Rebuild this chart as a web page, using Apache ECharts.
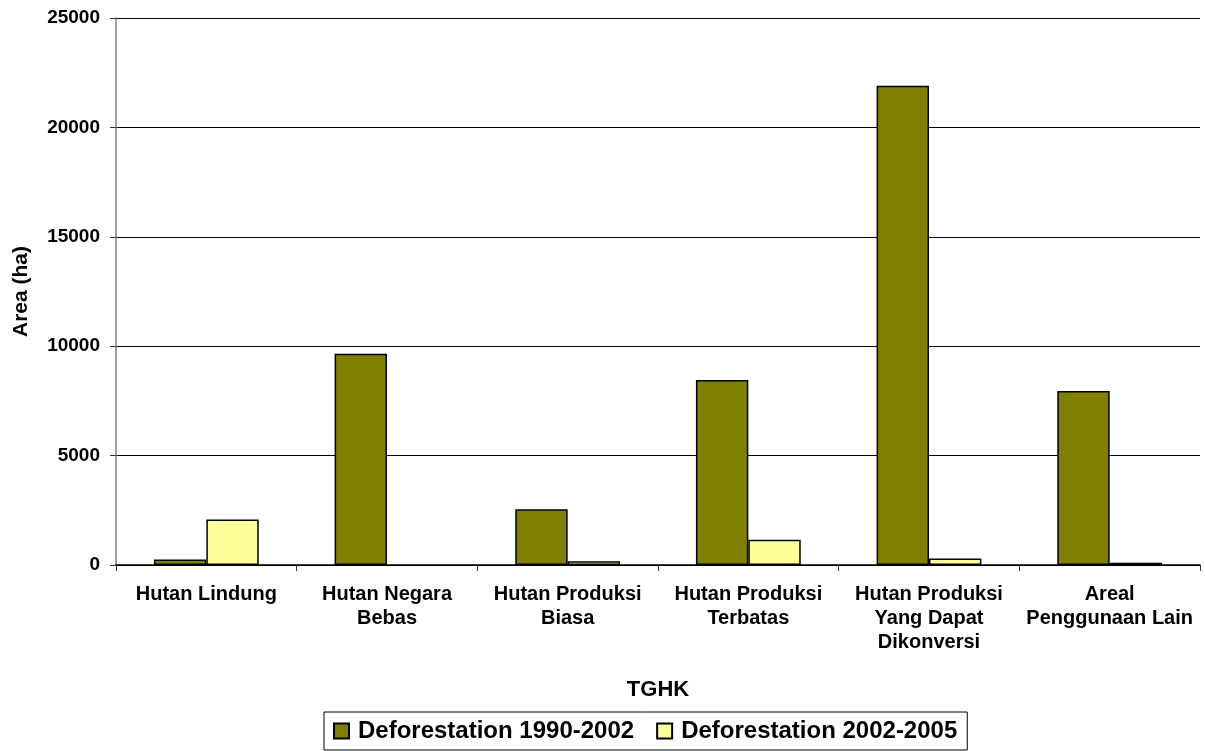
<!DOCTYPE html>
<html>
<head>
<meta charset="utf-8">
<script src="https://cdn.jsdelivr.net/npm/echarts@6/dist/echarts.min.js"></script>
<style>
html,body{margin:0;padding:0;background:#fff;}
#c{width:1205px;height:751px;}
</style>
</head>
<body>
<div id="c"></div>
<script>
const categories = [
  "Hutan Lindung",
  "Hutan Negara\nBebas",
  "Hutan Produksi\nBiasa",
  "Hutan Produksi\nTerbatas",
  "Hutan Produksi\nYang Dapat\nDikonversi",
  "Areal\nPenggunaan Lain"
];
const seriesNames = ["Deforestation 1990-2002", "Deforestation 2002-2005"];
const defor1990_2002 = [250, 9650, 2550, 8450, 21900, 7950];
const defor2002_2005 = [2080, null, 170, 1150, 300, 100];
const yTicks = { min: 0, max: 25000, interval: 5000 };

const FONT = '"Liberation Sans", Arial, sans-serif';
const chart = echarts.init(document.getElementById('c'));
chart.setOption({
  backgroundColor: '#fff',
  animation: false,
  grid: { left: 116, right: 5, top: 18, bottom: 186, containLabel: false, outerBoundsMode: 'none' },
  legend: {
    data: seriesNames,
    bottom: 1,
    left: 324,
    icon: 'rect',
    itemWidth: 15,
    itemHeight: 15,
    itemGap: 22,
    padding: [7, 10, 7, 9],
    borderColor: '#000',
    borderWidth: 1,
    textStyle: { fontFamily: FONT, fontWeight: 'bold', fontSize: 24, color: '#000', padding: [0, 0, 0, 4] }
  },
  xAxis: {
    type: 'category',
    data: categories,
    name: 'TGHK',
    nameLocation: 'middle',
    nameGap: 114,
    nameTextStyle: { fontFamily: FONT, fontWeight: 'bold', fontSize: 22, color: '#000' },
    axisLine: { lineStyle: { color: '#000', width: 1.5 } },
    axisTick: { show: true, length: 6, lineStyle: { color: '#333' } },
    axisLabel: {
      interval: 0,
      margin: 17,
      fontFamily: FONT, fontWeight: 'bold', fontSize: 20, lineHeight: 24, color: '#000'
    }
  },
  yAxis: {
    type: 'value',
    min: yTicks.min,
    max: yTicks.max,
    interval: yTicks.interval,
    name: 'Area (ha)',
    nameLocation: 'middle',
    nameGap: 84,
    nameRotate: 90,
    nameTextStyle: { fontFamily: FONT, fontWeight: 'bold', fontSize: 21, color: '#000' },
    axisLine: { show: true, lineStyle: { color: '#808080', width: 1.5 } },
    axisTick: { show: true, length: 6, lineStyle: { color: '#333' } },
    axisLabel: {
      margin: 16,
      formatter: function (v) { return String(v); },
      fontFamily: FONT, fontWeight: 'bold', fontSize: 19, color: '#000'
    },
    splitLine: { show: true, lineStyle: { color: '#000', width: 1 } }
  },
  series: [
    {
      name: seriesNames[0],
      type: 'bar',
      data: defor1990_2002,
      barGap: '0%',
      barCategoryGap: '42%',
      itemStyle: { color: '#808000', borderColor: '#000', borderWidth: 1.5 }
    },
    {
      name: seriesNames[1],
      type: 'bar',
      data: defor2002_2005,
      barGap: '0%',
      barCategoryGap: '42%',
      itemStyle: { color: '#ffff99', borderColor: '#000', borderWidth: 1.5 }
    }
  ]
});
</script>
</body>
</html>
